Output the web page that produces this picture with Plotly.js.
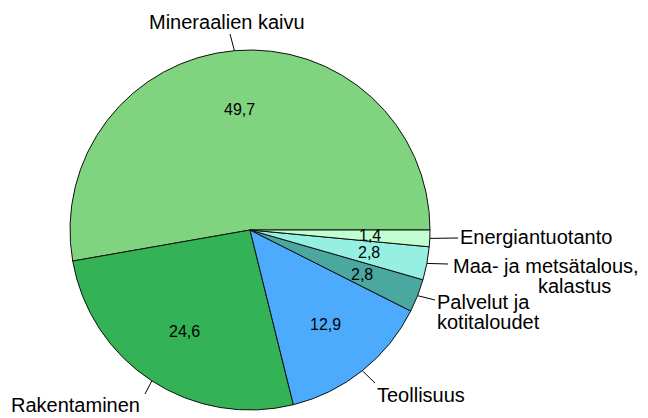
<!DOCTYPE html>
<html><head><meta charset="utf-8">
<script src="https://cdn.plot.ly/plotly-3.0.1.min.js"></script>
<style>html,body{margin:0;padding:0;background:#fff;} #chart{width:648px;height:418px;}</style>
</head><body><div id="chart"></div>
<script>
// ---- data ----
const categories = ["Mineraalien kaivu", "Rakentaminen", "Teollisuus", "Palvelut ja kotitaloudet", "Maa- ja metsätalous, kalastus", "Energiantuotanto"];
const values = [49.7, 24.6, 12.9, 2.8, 2.8, 1.4];
const valueLabels = ["49,7", "24,6", "12,9", "2,8", "2,8", "1,4"];
const outsideLines = [["Mineraalien kaivu"], ["Rakentaminen"], ["Teollisuus"], ["Palvelut ja", "kotitaloudet"], ["Maa- ja metsätalous,", "kalastus"], ["Energiantuotanto"]];

// ---- styles / layout ----
const colors = ["#80d480", "#33b356", "#4dabfe", "#4aa8a0", "#96f0e2", "#c0ffd0"];
const W = 648, H = 418, CX = 250, CY = 230, R = 180;
const FONT = "Liberation Sans, Arial, sans-serif";
// label placement (pixels): per line [x, y, xanchor], plus leader end point
const labelPos = [
  {lines: [[227, 22, "center"]], end: [230, 34]},
  {lines: [[9, 405, "left"]], end: [145, 394]},
  {lines: [[375, 395, "left"]], end: [375, 383]},
  {lines: [[435, 302, "left"], [435, 322, "left"]], end: [435, 300]},
  {lines: [[451, 266, "left"], [536, 286, "left"]], end: [448, 264]},
  {lines: [[458, 237, "left"]], end: [458, 238]}
];

const px = x => x / W, py = y => 1 - y / H;
const total = values.reduce((a, b) => a + b, 0);
const firstDeg = values[0] / total * 360;
// first slice starts at 3 o'clock and runs counterclockwise
const rotation = 90 - firstDeg;

const annotations = [], shapes = [];
let start = 0; // degrees counterclockwise from east
values.forEach((v, i) => {
  const span = v / total * 360;
  const mid = (start + span / 2) * Math.PI / 180;
  start += span;
  const cx = Math.cos(mid), sy = -Math.sin(mid);
  // value label inside
  annotations.push({
    xref: "paper", yref: "paper", x: px(CX + 0.67 * R * cx), y: py(CY + 0.67 * R * sy),
    text: valueLabels[i], showarrow: false, xanchor: "center", yanchor: "middle",
    font: {family: FONT, size: 16, color: "#000"}
  });
  // outside label
  labelPos[i].lines.forEach((l, k) => {
    annotations.push({
      xref: "paper", yref: "paper", x: px(l[0]), y: py(l[1]),
      text: outsideLines[i][k], showarrow: false, xanchor: l[2], yanchor: "middle",
      font: {family: FONT, size: 20, color: "#000"}
    });
  });
  // leader line from slice edge at mid angle
  shapes.push({
    type: "line", xref: "paper", yref: "paper",
    x0: px(CX + R * cx), y0: py(CY + R * sy),
    x1: px(labelPos[i].end[0]), y1: py(labelPos[i].end[1]),
    line: {color: "#000", width: 1}
  });
});

const trace = {
  type: "pie", labels: categories, values: values, sort: false,
  direction: "counterclockwise", rotation: rotation,
  marker: {colors: colors, line: {color: "#111", width: 1}},
  textinfo: "none", hoverinfo: "none", showlegend: false,
  domain: {x: [(CX - R) / W, (CX + R) / W], y: [(H - CY - R) / H, (H - CY + R) / H]}
};

Plotly.newPlot("chart", [trace], {
  width: W, height: H, margin: {l: 0, r: 0, t: 0, b: 0},
  paper_bgcolor: "#fff", showlegend: false,
  annotations: annotations, shapes: shapes
}, {staticPlot: true, displayModeBar: false});
</script></body></html>
